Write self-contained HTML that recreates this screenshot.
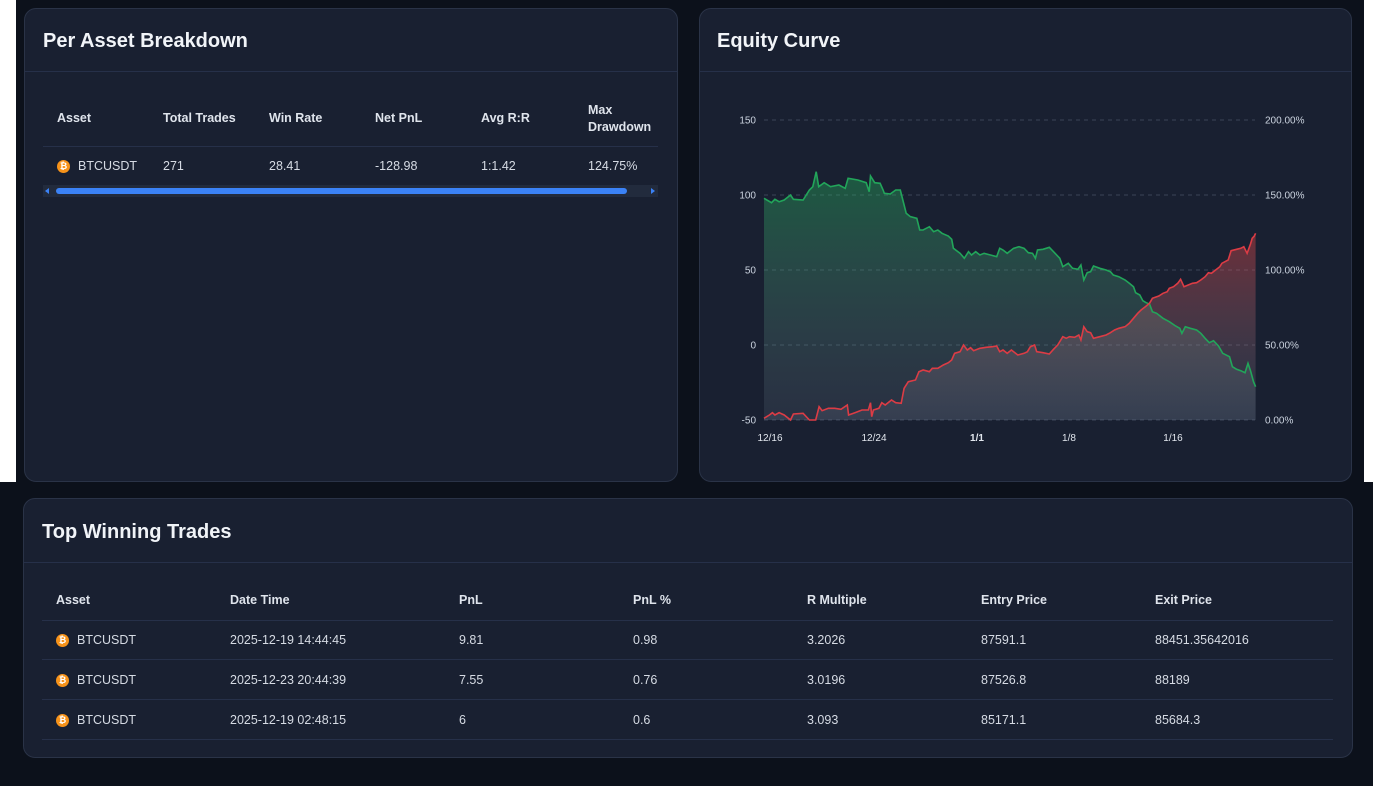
<!DOCTYPE html>
<html><head><meta charset="utf-8"><style>
*{margin:0;padding:0;box-sizing:border-box}
body{width:1373px;height:786px;background:#0c111b;position:relative;overflow:hidden;font-family:"Liberation Sans",sans-serif;color:#d6dbe4}
.w{position:absolute;background:#fff}
.card{position:absolute;background:#192031;border:1px solid #2a3347;border-radius:12px}
.title{position:absolute;font-size:20px;font-weight:bold;color:#f1f4f8}
.hl{position:absolute;height:1px;background:#263049}
.t{position:absolute;font-size:12.5px;white-space:nowrap}
.h{font-weight:bold;color:#dfe4ec}
.ic{position:absolute;width:13px;height:13px;border-radius:50%;background:#f7931a;color:#fff;font-size:9px;font-weight:bold;text-align:center;line-height:13px}
</style></head><body>
<div class="w" style="left:0;top:0;width:16px;height:482px"></div>
<div class="w" style="left:1364px;top:0;width:9px;height:482px"></div>
<div style="position:absolute;left:16px;top:0;width:1348px;height:482px;background:#0c111b"></div>

<div class="card" style="left:24px;top:8px;width:654px;height:474px"></div>
<div class="title" style="left:43px;top:30px">Per Asset Breakdown</div>
<div class="hl" style="left:25px;top:71px;width:652px"></div>
<div class="t h" style="left:57px;top:111px">Asset</div>
<div class="t h" style="left:163px;top:111px">Total Trades</div>
<div class="t h" style="left:269px;top:111px">Win Rate</div>
<div class="t h" style="left:375px;top:111px">Net PnL</div>
<div class="t h" style="left:481px;top:111px">Avg R:R</div>
<div class="t h" style="left:588px;top:102px;line-height:17px">Max<br>Drawdown</div>
<div class="hl" style="left:43px;top:146px;width:615px"></div>
<div class="ic" style="left:57px;top:160px">₿</div>
<div class="t" style="left:78px;top:159px">BTCUSDT</div>
<div class="t" style="left:163px;top:159px">271</div>
<div class="t" style="left:269px;top:159px">28.41</div>
<div class="t" style="left:375px;top:159px">-128.98</div>
<div class="t" style="left:481px;top:159px">1:1.42</div>
<div class="t" style="left:588px;top:159px">124.75%</div>
<div style="position:absolute;left:43px;top:185px;width:615px;height:12px;background:#222b3d"></div>
<div style="position:absolute;left:56px;top:188px;width:571px;height:6px;border-radius:3px;background:#3b82f6"></div>
<div style="position:absolute;left:45px;top:188px;width:0;height:0;border:3px solid transparent;border-right:4px solid #3b82f6;border-left:0"></div>
<div style="position:absolute;left:651px;top:188px;width:0;height:0;border:3px solid transparent;border-left:4px solid #3b82f6;border-right:0"></div>

<div class="card" style="left:699px;top:8px;width:653px;height:474px"></div>
<div class="title" style="left:717px;top:30px">Equity Curve</div>
<div class="hl" style="left:700px;top:71px;width:651px"></div>
<svg id="ch" style="position:absolute;left:0;top:0" width="1373" height="482"></svg>

<div class="card" style="left:23px;top:498px;width:1330px;height:260px"></div>
<div class="title" style="left:42px;top:521px">Top Winning Trades</div>
<div class="hl" style="left:24px;top:562px;width:1328px"></div>
<div id="bt"></div>
<script>
const ns="http://www.w3.org/2000/svg",s=document.getElementById('ch');
function el(t,a,txt){const e=document.createElementNS(ns,t);for(const k in a)e.setAttribute(k,a[k]);if(txt)e.textContent=txt;s.appendChild(e);return e}
s.innerHTML='<defs><linearGradient id="gg" x1="0" y1="0" x2="0" y2="1"><stop offset="0" stop-color="#22c55e" stop-opacity="0.35"/><stop offset="1" stop-color="#94a3b8" stop-opacity="0.12"/></linearGradient><linearGradient id="rg" x1="0" y1="0" x2="0" y2="1"><stop offset="0" stop-color="#ef4444" stop-opacity="0.4"/><stop offset="1" stop-color="#94a3b8" stop-opacity="0.12"/></linearGradient></defs>';
[[120,'150','200.00%'],[195,'100','150.00%'],[270,'50','100.00%'],[345,'0','50.00%'],[420,'-50','0.00%']].forEach(([y,l,r])=>{
el('line',{x1:764,x2:1255,y1:y,y2:y,stroke:'#3a4458','stroke-dasharray':'4 4'});
el('text',{x:756,y:y+3.5,'text-anchor':'end','font-size':10,fill:'#cbd3df'},l);
el('text',{x:1265,y:y+3.5,'font-size':10,fill:'#cbd3df'},r);});
[[770,'12/16'],[874,'12/24'],[977,'1/1'],[1069,'1/8'],[1173,'1/16']].forEach(([x,l])=>el('text',{x:x,y:441,'text-anchor':'middle','font-size':10,fill:'#e2e7ee','font-weight':l=='1/1'?'bold':'normal'},l));
const G=[[152,325],[170,338],[178,328],[188,335],[200,330],[215,315],[222,328],[245,330],[260,300],[268,290],[276,245],[282,290],[295,278],[310,290],[330,285],[345,295],[352,265],[375,270],[395,278],[402,305],[405,258],[415,278],[428,280],[435,300],[438,310],[452,312],[465,300],[476,300],[485,345],[490,370],[500,380],[515,385],[522,420],[530,420],[545,410],[555,425],[565,420],[575,430],[590,438],[598,448],[602,475],[618,490],[628,505],[638,485],[645,495],[655,485],[665,495],[675,490],[690,495],[705,500],[712,475],[720,480],[730,490],[745,475],[758,470],[770,475],[780,488],[790,490],[797,505],[802,480],[815,478],[830,472],[840,485],[855,505],[862,530],[875,520],[885,535],[898,538],[905,525],[912,570],[920,548],[928,545],[935,528],[950,535],[965,540],[975,545],[982,555],[995,560],[1010,570],[1020,580],[1030,590],[1035,608],[1045,615],[1052,632],[1060,638],[1068,642],[1075,665],[1085,670],[1100,685],[1115,695],[1130,708],[1140,715],[1145,730],[1153,710],[1165,715],[1180,720],[1190,730],[1200,745],[1210,758],[1220,752],[1232,768],[1242,790],[1258,800],[1265,830],[1275,838],[1285,842],[1295,848],[1302,820],[1308,842],[1315,875],[1320,890]];
const R=[[152,985],[165,975],[172,968],[178,975],[188,968],[200,975],[215,990],[222,972],[245,970],[260,990],[275,990],[283,950],[290,962],[305,955],[320,955],[335,958],[350,945],[353,975],[368,968],[385,960],[400,960],[405,938],[408,980],[412,960],[425,955],[432,938],[440,945],[455,930],[465,938],[478,940],[485,895],[495,875],[512,870],[520,845],[530,840],[545,845],[552,835],[565,835],[578,825],[590,818],[598,810],[605,790],[618,785],[626,765],[635,780],[643,773],[650,782],[665,775],[680,772],[695,770],[705,768],[712,785],[720,780],[730,790],[740,780],[755,795],[770,790],[778,785],[785,770],[795,765],[800,785],[815,788],[830,792],[840,778],[850,765],[862,740],[870,745],[878,740],[890,742],[900,735],[905,750],[912,710],[920,725],[928,728],[935,745],[950,740],[965,735],[975,728],[985,720],[995,715],[1010,710],[1020,700],[1030,685],[1040,670],[1048,660],[1058,650],[1068,640],[1075,625],[1090,618],[1100,610],[1110,605],[1115,595],[1125,590],[1135,580],[1142,568],[1150,590],[1160,585],[1170,580],[1180,578],[1190,570],[1200,560],[1208,548],[1215,550],[1225,540],[1235,530],[1240,520],[1255,510],[1262,482],[1275,478],[1285,475],[1292,470],[1300,490],[1308,462],[1312,445],[1317,438],[1320,430]];
function pts(a){return a.map(([x,y])=>[(700+x/2.376).toFixed(1),(90+y/3).toFixed(1)])}
function draw(a,c,g){const p=pts(a),d='M'+p.map(q=>q.join(',')).join('L');
el('path',{d:d+'L'+p[p.length-1][0]+',420L'+p[0][0]+',420Z',fill:'url(#'+g+')'});return d}
const dg=draw(G,'#22c55e','gg'),dr=draw(R,'#ef4444','rg');
el('path',{d:dg,fill:'none',stroke:'#22a55a','stroke-width':1.6});
el('path',{d:dr,fill:'none',stroke:'#dc3c45','stroke-width':1.6});
const cols=[56,230,459,633,807,981,1155],hd=['Asset','Date Time','PnL','PnL %','R Multiple','Entry Price','Exit Price'];
const rows=[['BTCUSDT','2025-12-19 14:44:45','9.81','0.98','3.2026','87591.1','88451.35642016'],['BTCUSDT','2025-12-23 20:44:39','7.55','0.76','3.0196','87526.8','88189'],['BTCUSDT','2025-12-19 02:48:15','6','0.6','3.093','85171.1','85684.3']];
let h='';hd.forEach((t,i)=>h+=`<div class="t h" style="left:${cols[i]}px;top:593px">${t}</div>`);
[620,659,699,739].forEach(y=>h+=`<div class="hl" style="left:42px;top:${y}px;width:1291px"></div>`);
rows.forEach((r,j)=>{const y=633+j*40;h+=`<div class="ic" style="left:56px;top:${y+1}px">₿</div>`;
r.forEach((t,i)=>h+=`<div class="t" style="left:${i?cols[i]:77}px;top:${y}px">${t}</div>`)});
document.getElementById('bt').innerHTML=h;
</script>
</body></html>
